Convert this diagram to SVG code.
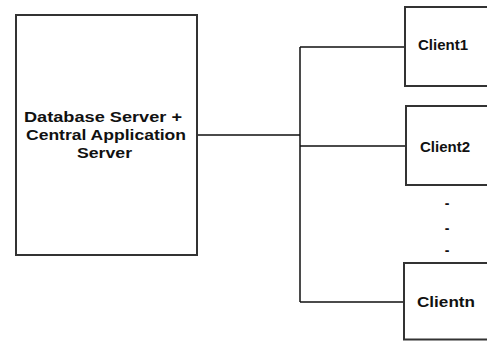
<svg xmlns="http://www.w3.org/2000/svg" width="487" height="341" viewBox="0 0 487 341">
<style>
.box{fill:#fff;stroke:#333;stroke-width:2}
.ln{fill:none;stroke:#111;stroke-width:1.5}
.t{font-family:"Liberation Sans",Arial,sans-serif;font-weight:bold;font-size:14px;fill:#111}
</style>
<rect width="487" height="341" fill="#fff"/>
<g id="connectors">
<path class="ln" d="M197 135H300M300 47V302M300 47H405M300 146H406M300 302H404"/>
</g>
<g id="server">
<rect class="box" x="16" y="15" width="181" height="240"/>
<text class="t" x="24" y="122" textLength="158" lengthAdjust="spacingAndGlyphs">Database Server +</text>
<text class="t" x="26" y="140" textLength="160" lengthAdjust="spacingAndGlyphs">Central Application</text>
<text class="t" x="77" y="158" textLength="55" lengthAdjust="spacingAndGlyphs">Server</text>
</g>
<g id="client1">
<rect class="box" x="405" y="7" width="90" height="79"/>
<text class="t" x="418" y="50" textLength="50" lengthAdjust="spacingAndGlyphs">Client1</text>
</g>
<g id="client2">
<rect class="box" x="406" y="106" width="90" height="79"/>
<text class="t" x="420" y="152" textLength="50" lengthAdjust="spacingAndGlyphs">Client2</text>
</g>
<g id="dots">
<text class="t" x="447" y="208" text-anchor="middle">-</text>
<text class="t" x="447" y="233" text-anchor="middle">-</text>
<text class="t" x="447" y="255" text-anchor="middle">-</text>
</g>
<g id="clientn">
<rect class="box" x="404" y="263" width="90" height="76.5"/>
<text class="t" x="417" y="307" textLength="58" lengthAdjust="spacingAndGlyphs">Clientn</text>
</g>
</svg>
